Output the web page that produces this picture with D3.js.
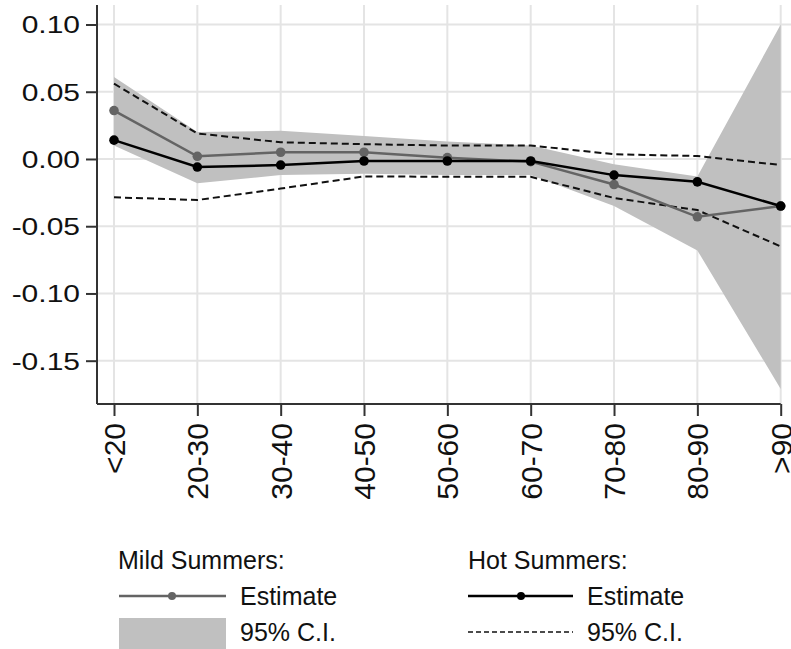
<!DOCTYPE html>
<html>
<head>
<meta charset="utf-8">
<script src="https://cdn.jsdelivr.net/npm/d3@7"></script>
<style>
  body { margin: 0; background: #fff; }
  svg { display: block; font-family: "Liberation Sans", Arial, sans-serif; }
</style>
</head>
<body>
<svg width="791" height="649"></svg>
<script>
// age groups on the x axis
const ageGroups = ["<20", "20-30", "30-40", "40-50", "50-60", "60-70", "70-80", "80-90", ">90"];

// mild summers: estimate + 95% band
const mildEst = [0.036, 0.002, 0.005, 0.005, 0.001, -0.002, -0.019, -0.043, -0.035];
const mildLo  = [0.010, -0.018, -0.012, -0.011, -0.012, -0.012, -0.035, -0.068, -0.171];
const mildHi  = [0.061, 0.020, 0.021, 0.017, 0.013, 0.010, -0.004, -0.013, 0.100];

// hot summers: estimate + 95% dashed bounds
const hotEst = [0.014, -0.006, -0.0045, -0.0015, -0.0015, -0.0015, -0.012, -0.017, -0.035];
const hotLo  = [-0.0285, -0.0305, -0.022, -0.013, -0.0132, -0.0133, -0.029, -0.038, -0.065];
const hotHi  = [0.056, 0.019, 0.0124, 0.011, 0.010, 0.010, 0.0035, 0.0022, -0.0045];

const yTicks = [0.10, 0.05, 0.00, -0.05, -0.10, -0.15];

const svg = d3.select("svg");
const plot = {left: 97, top: 5, bottom: 404};

const x = d3.scalePoint()
    .domain(ageGroups)
    .range([114, 780.7]);

const y = d3.scaleLinear()
    .domain([-0.1822, 0.1145])
    .range([plot.bottom, plot.top]);

const gray = "#c0c0c0", mildCol = "#646464";

// grid
svg.append("g")
  .selectAll("line")
  .data(yTicks)
  .join("line")
    .attr("x1", plot.left).attr("x2", 791)
    .attr("y1", d => y(d)).attr("y2", d => y(d))
    .attr("stroke", "#e4e4e4").attr("stroke-width", 2);

svg.append("g")
  .selectAll("line")
  .data(ageGroups)
  .join("line")
    .attr("x1", d => x(d)).attr("x2", d => x(d))
    .attr("y1", plot.top).attr("y2", plot.bottom)
    .attr("stroke", "#e4e4e4").attr("stroke-width", 2);

const rows = ageGroups.map((g, i) => ({
  g, mEst: mildEst[i], mLo: mildLo[i], mHi: mildHi[i],
  hEst: hotEst[i], hLo: hotLo[i], hHi: hotHi[i]
}));

// mild CI band
svg.append("path")
    .datum(rows)
    .attr("fill", gray)
    .attr("d", d3.area().x(d => x(d.g)).y0(d => y(d.mLo)).y1(d => y(d.mHi)));

// hot CI dashed lines
["hLo", "hHi"].forEach(k => {
  svg.append("path")
      .datum(rows)
      .attr("fill", "none")
      .attr("stroke", "#111")
      .attr("stroke-width", 2)
      .attr("stroke-dasharray", "7,4")
      .attr("d", d3.line().x(d => x(d.g)).y(d => y(d[k])));
});

// estimate lines with markers
const series = [
  {key: "mEst", color: mildCol},
  {key: "hEst", color: "#000"}
];
series.forEach(s => {
  svg.append("path")
      .datum(rows)
      .attr("fill", "none")
      .attr("stroke", s.color)
      .attr("stroke-width", 2.5)
      .attr("d", d3.line().x(d => x(d.g)).y(d => y(d[s.key])));
  svg.append("g")
    .selectAll("circle")
    .data(rows)
    .join("circle")
      .attr("cx", d => x(d.g))
      .attr("cy", d => y(d[s.key]))
      .attr("r", 4.8)
      .attr("fill", s.color);
});

// y axis
const yAxis = svg.append("g")
    .attr("transform", `translate(${plot.left},0)`)
    .call(d3.axisLeft(y).tickValues(yTicks).tickSize(11).tickSizeOuter(0));
yAxis.select(".domain").attr("d", `M0,${plot.top}V${plot.bottom}`).attr("stroke", "#333").attr("stroke-width", 2);
yAxis.selectAll(".tick line").attr("stroke", "#333").attr("stroke-width", 2);
yAxis.selectAll(".tick text")
    .attr("x", null).attr("dy", null)
    .attr("font-size", 30)
    .attr("fill", "#111")
    .attr("dominant-baseline", "central")
    .attr("transform", "translate(-17,0) scale(1,0.8)")
    .text(d => d3.format(".2f")(d).replace("−", "-"));

// x axis
const xAxis = svg.append("g")
    .attr("transform", `translate(0,${plot.bottom})`)
    .call(d3.axisBottom(x).tickSize(12).tickSizeOuter(0));
xAxis.select(".domain").attr("d", `M${plot.left},0H${x(">90")}`).attr("stroke", "#333").attr("stroke-width", 2);
xAxis.selectAll(".tick line").attr("stroke", "#333").attr("stroke-width", 2);
xAxis.selectAll(".tick text")
    .attr("font-size", 30)
    .attr("fill", "#111")
    .attr("text-anchor", "end")
    .attr("dy", "0.35em")
    .attr("y", 0)
    .attr("x", -19)
    .attr("transform", "rotate(-90)");

// legend
const lg = svg.append("g").attr("font-size", 25).attr("fill", "#111");

lg.append("text").attr("x", 118).attr("y", 569).text("Mild Summers:");
lg.append("line").attr("x1", 119).attr("x2", 226).attr("y1", 596).attr("y2", 596)
    .attr("stroke", mildCol).attr("stroke-width", 2.5);
lg.append("circle").attr("cx", 172).attr("cy", 596).attr("r", 4).attr("fill", mildCol);
lg.append("text").attr("x", 240).attr("y", 596).attr("dy", "0.35em").text("Estimate");
lg.append("rect").attr("x", 119).attr("y", 618).attr("width", 107).attr("height", 31).attr("fill", gray);
lg.append("text").attr("x", 240).attr("y", 632).attr("dy", "0.35em").text("95% C.I.");

lg.append("text").attr("x", 468).attr("y", 569).text("Hot Summers:");
lg.append("line").attr("x1", 468).attr("x2", 573).attr("y1", 596).attr("y2", 596)
    .attr("stroke", "#000").attr("stroke-width", 2.5);
lg.append("circle").attr("cx", 521).attr("cy", 596).attr("r", 4).attr("fill", "#000");
lg.append("text").attr("x", 587).attr("y", 596).attr("dy", "0.35em").text("Estimate");
lg.append("line").attr("x1", 468).attr("x2", 573).attr("y1", 632).attr("y2", 632)
    .attr("stroke", "#111").attr("stroke-width", 1.5).attr("stroke-dasharray", "5,3");
lg.append("text").attr("x", 587).attr("y", 632).attr("dy", "0.35em").text("95% C.I.");
</script>
</body>
</html>
